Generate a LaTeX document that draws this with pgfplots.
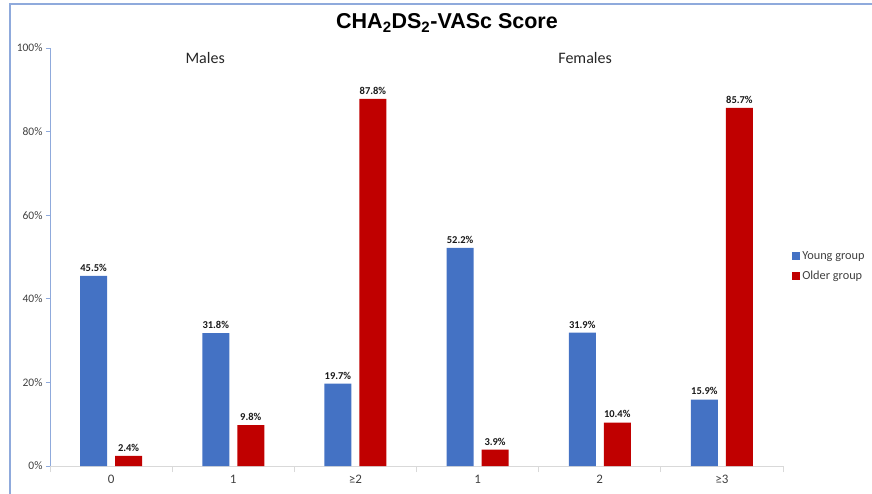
\documentclass[border=0pt]{standalone}
\usepackage{pgfplots}
\pgfplotsset{compat=1.18}
\usepackage{fontspec}
\setmainfont{Carlito}
\newfontfamily\titlefont{Liberation Sans}
\definecolor{young}{HTML}{4472C4}
\definecolor{older}{HTML}{C00000}
\definecolor{frameblue}{HTML}{8FAADC}
\definecolor{axgray}{HTML}{D9D9D9}
\definecolor{txtgray}{HTML}{404040}
\begin{document}
\begin{tikzpicture}
\path[use as bounding box] (0,0) rectangle (872bp,494bp);
\draw[frameblue, line width=1.3bp] (10bp,-10bp) -- (10bp,490bp) -- (890bp,490bp);
\node[font=\titlefont\bfseries\fontsize{21.5bp}{24bp}\selectfont] at (447bp,471bp) {CHA\textsubscript{2}DS\textsubscript{2}-VASc Score};
\begin{axis}[
  at={(50bp,28bp)}, anchor=south west,
  scale only axis, width=733bp, height=418bp,
  ymin=0, ymax=100, xmin=-0.5, xmax=5.5,
  axis x line*=bottom, axis y line*=left,
  x axis line style={axgray, line width=0.9bp, -},
  y axis line style={frameblue, line width=0.9bp, -},
  ytick={0,20,40,60,80,100},
  yticklabel={\pgfmathprintnumber{\tick}\%},
  /pgf/number format/assume math mode=true,
  yticklabel style={font=\fontsize{11.5bp}{13bp}\selectfont, color=txtgray},
  ytick style={frameblue, line width=0.9bp},
  tick align=outside,
  major tick length=4bp,
  xtick={0,1,2,3,4,5},
  xticklabels={0,1,≥2,1,2,≥3},
  xticklabel style={font=\fontsize{13bp}{15bp}\selectfont, color=txtgray, yshift=-2bp},
  x tick style={draw=none},
  minor xtick={-0.5,0.5,1.5,2.5,3.5,4.5,5.5},
  minor x tick style={axgray, line width=0.9bp, draw=axgray},
  minor tick length=6bp,
  ybar, bar width=27bp,
  nodes near coords={\pgfmathprintnumber[fixed,precision=1,fixed zerofill]{\pgfplotspointmeta}\%},
  every node near coord/.append style={font=\bfseries\fontsize{10.5bp}{12bp}\selectfont, color=black!90, anchor=south, yshift=1bp},
  legend style={at={(1.011,0.478)}, anchor=west, draw=none, fill=none,
    font=\fontsize{12.3bp}{14bp}\selectfont, color=txtgray, row sep=6bp,
    legend cell align=left, inner xsep=1bp},
  legend image code/.code={\fill[#1] (0bp,-4bp) rectangle (8bp,4bp);},
  clip=false,
]
\addplot[fill=young, draw=none, bar shift=-17.5bp] coordinates {(0,45.5) (1,31.8) (2,19.7) (3,52.2) (4,31.9) (5,15.9)};
\addplot[fill=older, draw=none, bar shift=17.5bp] coordinates {(0,2.4) (1,9.8) (2,87.8) (3,3.9) (4,10.4) (5,85.7)};
\legend{Young group, Older group}
\node[font=\fontsize{16bp}{18bp}\selectfont, color=black!85] at (axis cs:0.77,97.6) {Males};
\node[font=\fontsize{16bp}{18bp}\selectfont, color=black!85] at (axis cs:3.88,97.6) {Females};
\end{axis}
\end{tikzpicture}
\end{document}
